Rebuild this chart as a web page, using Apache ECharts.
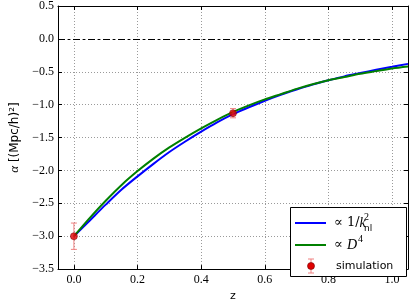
<!DOCTYPE html>
<html>
<head>
<meta charset="utf-8">
<script src="https://cdn.jsdelivr.net/npm/echarts@6/dist/echarts.min.js"></script>
<style>html,body{margin:0;padding:0;background:#fff}#c{width:413px;height:307px}</style>
</head>
<body>
<div id="c"></div>
<script>
// ---- data ----
const zSamples = [0.00,0.05,0.10,0.15,0.20,0.25,0.30,0.35,0.40,0.45,0.50,0.55,0.60,0.65,0.70,0.75,0.80,0.85,0.90,0.95,1.00,1.05];
const alphaKnl = [-3.00,-2.76,-2.52,-2.29,-2.09,-1.90,-1.72,-1.56,-1.41,-1.27,-1.145,-1.04,-0.94,-0.85,-0.77,-0.695,-0.63,-0.57,-0.52,-0.47,-0.425,-0.38];
const alphaD4  = [-3.00,-2.72,-2.46,-2.22,-2.01,-1.82,-1.65,-1.50,-1.36,-1.23,-1.11,-1.01,-0.92,-0.84,-0.76,-0.69,-0.63,-0.58,-0.53,-0.49,-0.45,-0.42];
const simZ     = [0.0, 0.5];
const simAlpha = [-3.0, -1.13];
const simErr   = [0.2, 0.07];
const xTicks = [0.0,0.2,0.4,0.6,0.8,1.0];
const yTicks = [0.5,0.0,-0.5,-1.0,-1.5,-2.0,-2.5,-3.0,-3.5];

const fmt = v => (v < 0 ? '\u2212' : '') + Math.abs(v).toFixed(1);
const chart = echarts.init(document.getElementById('c'), null, {renderer:'canvas'});
const serif = '"Liberation Serif", "DejaVu Serif", serif';
const sans = '"DejaVu Sans", sans-serif';
const gridLine = {show:true, lineStyle:{color:'#9a9a9a', width:1, type:[1,2]}};

const xBase = {type:'value', min:-0.05, max:1.05,
  axisLine:{show:true, onZero:false, lineStyle:{color:'#000', width:1}},
  axisTick:{show:true, inside:true, length:4, customValues:xTicks, lineStyle:{color:'#000'}},
};
const yBase = {type:'value', min:-3.5, max:0.5, interval:0.5,
  axisLine:{show:true, onZero:false, lineStyle:{color:'#000', width:1}},
  axisTick:{show:true, inside:true, length:4, lineStyle:{color:'#000'}},
};

const option = {
  animation:false,
  grid:{left:49, right:5, top:5, bottom:22, containLabel:false},
  xAxis:[
    Object.assign({}, xBase, {position:'bottom',
      axisLabel:{show:true, customValues:xTicks, formatter:fmt, margin:5, color:'#000', fontFamily:serif, fontSize:12},
      splitLine:gridLine,
      name:'z', nameLocation:'middle', nameGap:15, nameTextStyle:{color:'#000', fontFamily:sans, fontSize:11}}),
    Object.assign({}, xBase, {position:'top', axisLabel:{show:false}, splitLine:{show:false}})
  ],
  yAxis:[
    Object.assign({}, yBase, {position:'left',
      axisLabel:{show:true, formatter:fmt, margin:4, color:'#000', fontFamily:serif, fontSize:12},
      splitLine:gridLine,
      name:'{a|\u03b1} [(Mpc/h)\u00b2]', nameLocation:'middle', nameRotate:90, nameGap:37,
      nameTextStyle:{color:'#000', fontFamily:sans, fontSize:12, rich:{a:{fontFamily:serif, fontStyle:'italic', fontSize:13, color:'#000'}}}}),
    Object.assign({}, yBase, {position:'right', axisLabel:{show:false}, splitLine:{show:false}})
  ],
  series:[
    {type:'line', name:'knl', data:zSamples.map((z,i)=>[z,alphaKnl[i]]), smooth:0.3,
     showSymbol:false, lineStyle:{color:'#0000ff', width:2}, itemStyle:{color:'#0000ff'}, z:3,
     markLine:{silent:true, symbol:'none', label:{show:false},
       lineStyle:{color:'#000', width:1, type:[7,3,2,3]}, data:[{yAxis:0}]}},
    {type:'line', name:'D4', data:zSamples.map((z,i)=>[z,alphaD4[i]]), smooth:0.3,
     showSymbol:false, lineStyle:{color:'#008000', width:2}, itemStyle:{color:'#008000'}, z:4},
    {type:'custom', name:'err', data:simZ.map((z,i)=>[z, simAlpha[i]-simErr[i], simAlpha[i]+simErr[i]]), z:5,
     renderItem:function(params, api){
       const lo = api.coord([api.value(0), api.value(1)]);
       const hi = api.coord([api.value(0), api.value(2)]);
       const w = 3;
       const st = {stroke:'#f08080', lineWidth:1};
       return {type:'group', children:[
         {type:'line', shape:{x1:lo[0], y1:lo[1], x2:hi[0], y2:hi[1]}, style:st},
         {type:'line', shape:{x1:lo[0]-w, y1:lo[1], x2:lo[0]+w, y2:lo[1]}, style:st},
         {type:'line', shape:{x1:hi[0]-w, y1:hi[1], x2:hi[0]+w, y2:hi[1]}, style:st}
       ]};
     }},
    {type:'scatter', name:'sim', data:simZ.map((z,i)=>[z,simAlpha[i]]), symbol:'circle', symbolSize:7, z:6,
     itemStyle:{color:'#e00000', borderColor:'#700000', borderWidth:0.6}}
  ],
  graphic:[
    {type:'group', children:[
      {type:'rect', shape:{x:290.5, y:207.5, width:116, height:69}, style:{fill:'#fff', stroke:'#000', lineWidth:1}, z:10},
      {type:'line', shape:{x1:295, y1:223, x2:326, y2:223}, style:{stroke:'#0000ff', lineWidth:2}, z:11},
      {type:'line', shape:{x1:295, y1:245, x2:326, y2:245}, style:{stroke:'#008000', lineWidth:2}, z:11},
      {type:'line', shape:{x1:311, y1:259, x2:311, y2:273}, style:{stroke:'#f08080', lineWidth:1}, z:11},
      {type:'line', shape:{x1:308, y1:259, x2:314, y2:259}, style:{stroke:'#f08080', lineWidth:1}, z:11},
      {type:'line', shape:{x1:308, y1:273, x2:314, y2:273}, style:{stroke:'#f08080', lineWidth:1}, z:11},
      {type:'circle', shape:{cx:311, cy:266, r:3.5}, style:{fill:'#e00000', stroke:'#700000', lineWidth:0.6}, z:12},
      {type:'text', x:334, y:223, z:12, style:{text:'{n|\u221d 1/}{i|k}', verticalAlign:'middle', fill:'#000',
        rich:{n:{fontFamily:'"DejaVu Serif", serif', fontSize:13, fill:'#000'}, i:{fontFamily:serif, fontStyle:'italic', fontSize:14, fill:'#000'}}}},
      {type:'text', x:364, y:217, z:12, style:{text:'2', verticalAlign:'middle', fontFamily:serif, fontSize:10, fill:'#000'}},
      {type:'text', x:364, y:229, z:12, style:{text:'nl', verticalAlign:'middle', fontFamily:sans, fontSize:9, fill:'#000'}},
      {type:'text', x:334, y:245, z:12, style:{text:'{n|\u221d }{i|D}', verticalAlign:'middle', fill:'#000',
        rich:{n:{fontFamily:'"DejaVu Serif", serif', fontSize:13, fill:'#000'}, i:{fontFamily:serif, fontStyle:'italic', fontSize:14, fill:'#000'}}}},
      {type:'text', x:358, y:239, z:12, style:{text:'4', verticalAlign:'middle', fontFamily:serif, fontSize:10, fill:'#000'}},
      {type:'text', x:336, y:266, z:12, style:{text:'simulation', verticalAlign:'middle', fontFamily:sans, fontSize:11, fill:'#000'}}
    ]}
  ]
};
chart.setOption(option);
</script>
</body>
</html>
